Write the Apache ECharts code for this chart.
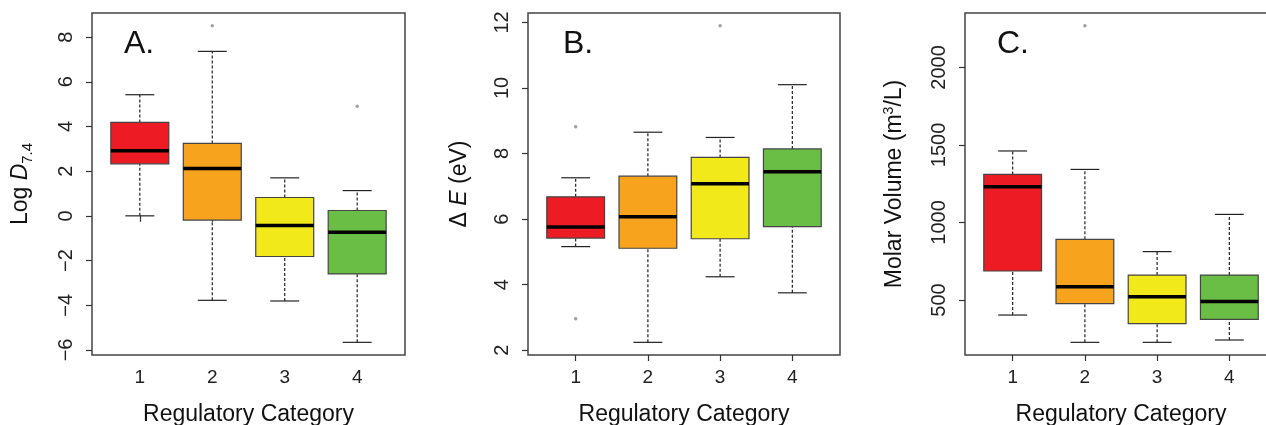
<!DOCTYPE html>
<html>
<head>
<meta charset="utf-8">
<script src="https://cdn.jsdelivr.net/npm/echarts@6/dist/echarts.min.js"></script>
<style>
html,body{margin:0;padding:0;background:#fff;}
#chart{width:1266px;height:425px;}
</style>
</head>
<body>
<div id="chart"></div>
<script>
// ---- data ----
const categories = [1, 2, 3, 4];
const categoryLabels = ['1', '2', '3', '4'];
const colors = ['#ED1C24', '#F7A31E', '#F1E91A', '#6ABD45'];

// [lower whisker, Q1, median, Q3, upper whisker]
const statsA = [[0.00, 2.33, 2.91, 4.18, 5.42], [-3.78, -0.19, 2.12, 3.24, 7.36], [-3.81, -1.82, -0.43, 0.82, 1.70], [-5.66, -2.60, -0.73, 0.24, 1.13]];
const outliersA = [[2, 8.51], [4, 4.90]];
const ticksA = [-6, -4, -2, 0, 2, 4, 6, 8];

const statsB = [[5.16, 5.42, 5.76, 6.68, 7.26], [2.24, 5.11, 6.07, 7.31, 8.65], [4.24, 5.40, 7.08, 7.88, 8.49], [3.75, 5.77, 7.44, 8.14, 10.10]];
const outliersB = [[1, 8.82], [1, 2.96], [3, 11.90]];
const ticksB = [2, 4, 6, 8, 10, 12];

const statsC = [[403, 687, 1231, 1310, 1461], [227, 476, 586, 891, 1342], [227, 347, 521, 661, 812], [242, 375, 491, 661, 1052]];
const outliersC = [[2, 2269]];
const ticksC = [500, 1000, 1500, 2000];

const panelLetters = ['A.', 'B.', 'C.'];
const xTitle = 'Regulatory Category';

// ---- helpers ----
const FONT = 'Liberation Sans, Arial, sans-serif';
function rRange(stats, outs) {
  let lo = Infinity, hi = -Infinity;
  stats.forEach(s => { lo = Math.min(lo, s[0]); hi = Math.max(hi, s[4]); });
  outs.forEach(o => { lo = Math.min(lo, o[1]); hi = Math.max(hi, o[1]); });
  const pad = (hi - lo) * 0.04;
  return [lo - pad, hi + pad];
}
const grids = [
  {left: 92, top: 13, width: 313, height: 342},
  {left: 528, top: 13, width: 312, height: 342},
  {left: 965, top: 13, width: 312, height: 342}
];
const panels = [
  {stats: statsA, outs: outliersA, ticks: ticksA,
   name: '{a|Log }{b|D}{c|7.4}', nameGap: 57},
  {stats: statsB, outs: outliersB, ticks: ticksB,
   name: '{a|Δ }{b|E}{a| (eV)}', nameGap: 57},
  {stats: statsC, outs: outliersC, ticks: ticksC,
   name: '{a|Molar Volume (m}{s|3}{a|/L)}', nameGap: 57}
];

function renderBox(params, api) {
  const x = api.value(0);
  const lo = api.coord([x, api.value(1)]);
  const q1 = api.coord([x, api.value(2)]);
  const med = api.coord([x, api.value(3)]);
  const q3 = api.coord([x, api.value(4)]);
  const hi = api.coord([x, api.value(5)]);
  const half = api.size([0.8, 0])[0] / 2;
  const cap = half / 2;
  const cx = lo[0];
  const color = colors[params.dataIndex];
  const dash = {stroke: '#222', lineWidth: 1.2, lineDash: [3, 2]};
  const solid = {stroke: '#222', lineWidth: 1.2};
  return {
    type: 'group',
    children: [
      {type: 'line', shape: {x1: cx, y1: lo[1], x2: cx, y2: q1[1]}, style: dash},
      {type: 'line', shape: {x1: cx, y1: q3[1], x2: cx, y2: hi[1]}, style: dash},
      {type: 'line', shape: {x1: cx - cap, y1: lo[1], x2: cx + cap, y2: lo[1]}, style: solid},
      {type: 'line', shape: {x1: cx - cap, y1: hi[1], x2: cx + cap, y2: hi[1]}, style: solid},
      {type: 'rect', shape: {x: cx - half, y: q3[1], width: half * 2, height: q1[1] - q3[1]},
       style: {fill: color, stroke: '#444', lineWidth: 1.2}},
      {type: 'line', shape: {x1: cx - half, y1: med[1], x2: cx + half, y2: med[1]},
       style: {stroke: '#000', lineWidth: 3.5}}
    ]
  };
}

const option = {
  animation: false,
  backgroundColor: '#fff',
  textStyle: {fontFamily: FONT},
  title: panelLetters.map((t, i) => ({
    text: t,
    left: [119, 558, 992][i],
    top: 23,
    textStyle: {fontFamily: FONT, fontSize: 32, fontWeight: 'normal', color: '#111'}
  })),
  grid: grids.map(g => Object.assign({show: true, borderColor: '#444', borderWidth: 1.5,
    backgroundColor: 'transparent', outerBoundsMode: 'none', containLabel: false}, g)),
  xAxis: panels.map((p, i) => ({
    type: 'value', gridIndex: i, min: 0.34, max: 4.66,
    axisLine: {show: false},
    splitLine: {show: false},
    axisTick: {show: true, customValues: categories, length: 6, lineStyle: {color: '#333', width: 1.2}},
    axisLabel: {customValues: categories, formatter: v => categoryLabels[categories.indexOf(v)],
      fontSize: 19, color: '#222', margin: 13, fontFamily: FONT},
    name: xTitle, nameLocation: 'middle', nameGap: 48,
    nameTextStyle: {fontSize: 23, color: '#111', fontFamily: FONT}
  })),
  yAxis: panels.map((p, i) => {
    const r = rRange(p.stats, p.outs);
    return {
      type: 'value', gridIndex: i, min: r[0], max: r[1],
      axisLine: {show: false},
      splitLine: {show: false},
      axisTick: {show: true, customValues: p.ticks, length: 6, lineStyle: {color: '#333', width: 1.2}},
      axisLabel: {customValues: p.ticks, rotate: 90, fontSize: 20, color: '#222', margin: 16, fontFamily: FONT,
        formatter: v => String(v).replace('-', '\u2212')},
      name: p.name, nameLocation: 'middle', nameGap: p.nameGap, nameRotate: 90,
      nameTextStyle: {
        color: '#111', fontFamily: FONT,
        rich: {
          a: {fontSize: 23, fontFamily: FONT, color: '#111'},
          b: {fontSize: 23, fontStyle: 'italic', fontFamily: FONT, color: '#111'},
          c: {fontSize: 15, fontFamily: FONT, color: '#111', padding: [14, 0, 0, 0]},
          s: {fontSize: 14, fontFamily: FONT, color: '#111', padding: [0, 0, 12, 0]}
        }
      }
    };
  }),
  series: []
};

panels.forEach((p, i) => {
  option.series.push({
    type: 'custom', xAxisIndex: i, yAxisIndex: i,
    renderItem: renderBox,
    encode: {x: 0, y: [1, 2, 3, 4, 5]},
    data: p.stats.map((s, k) => [categories[k]].concat(s)),
    z: 2
  });
  option.series.push({
    type: 'scatter', xAxisIndex: i, yAxisIndex: i,
    data: p.outs,
    symbolSize: 3.5,
    itemStyle: {color: '#888'},
    z: 3
  });
});

const chart = echarts.init(document.getElementById('chart'), null, {renderer: 'canvas'});
chart.setOption(option);
</script>
</body>
</html>
